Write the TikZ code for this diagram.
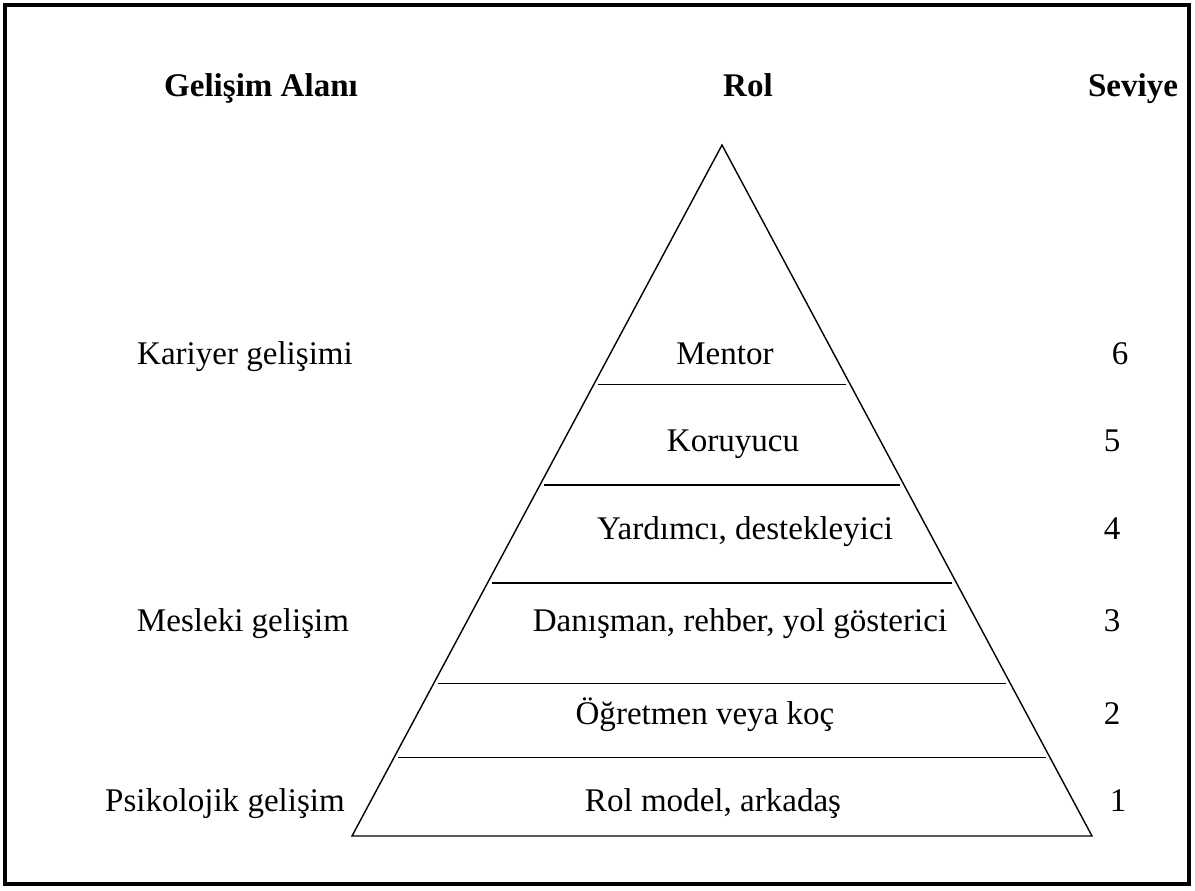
\documentclass[tikz,border=0pt]{standalone}
\usepackage{fontspec}
\setmainfont{Liberation Serif}
\usepackage{tikz}
\usetikzlibrary{calc}

\begin{document}
\begin{tikzpicture}[x=0.025cm,y=-0.025cm,
  every node/.style={font=\fontsize{23.5}{28}\selectfont,text height=0.7em,text depth=0.22em},
  head/.style={font=\fontsize{23.5}{28}\selectfont\bfseries},
  level/.style={line width=1pt,shorten <=3pt,shorten >=3pt}]
\useasboundingbox (0,0) rectangle (1195,890);
\draw[line width=2.2pt] (5,5) rectangle (1189,884);
% headers
\node[head] (h1) at (261,93) {Gelişim Alanı};
\node[head] (h2) at (748,93) {Rol};
\node[head] (h3) at (1133,93) {Seviye};
% pyramid
\coordinate (top) at (722,145);
\coordinate (bl) at (352,836);
\coordinate (br) at (1092,836);
\draw[line width=1pt] (top) -- (bl) -- (br) -- cycle;
\foreach \t [count=\i] in {0.347,0.492,0.634,0.779,0.886}{
  \coordinate (l\i) at ($(top)!\t!(bl)$);
  \coordinate (r\i) at ($(top)!\t!(br)$);
  \draw[level] (l\i) -- (r\i);
}
% roles
\node (r6) at (725,361) {Mentor};
\node (r5) at (733,448) {Koruyucu};
\node (r4) at (745,536) {Yardımcı, destekleyici};
\node (r3) at (740,628) {Danışman, rehber, yol gösterici};
\node (r2) at (705,721) {Öğretmen veya koç};
\node (r1) at (713,808) {Rol model, arkadaş};
% areas
\node (a3) at (245,361) {Kariyer gelişimi};
\node (a2) at (243,628) {Mesleki gelişim};
\node (a1) at (225,808) {Psikolojik gelişim};
% levels
\node (s6) at (1120,361) {6};
\node (s5) at (1112,448) {5};
\node (s4) at (1112,536) {4};
\node (s3) at (1112,628) {3};
\node (s2) at (1112,721) {2};
\node (s1) at (1118,808) {1};
\end{tikzpicture}
\end{document}
